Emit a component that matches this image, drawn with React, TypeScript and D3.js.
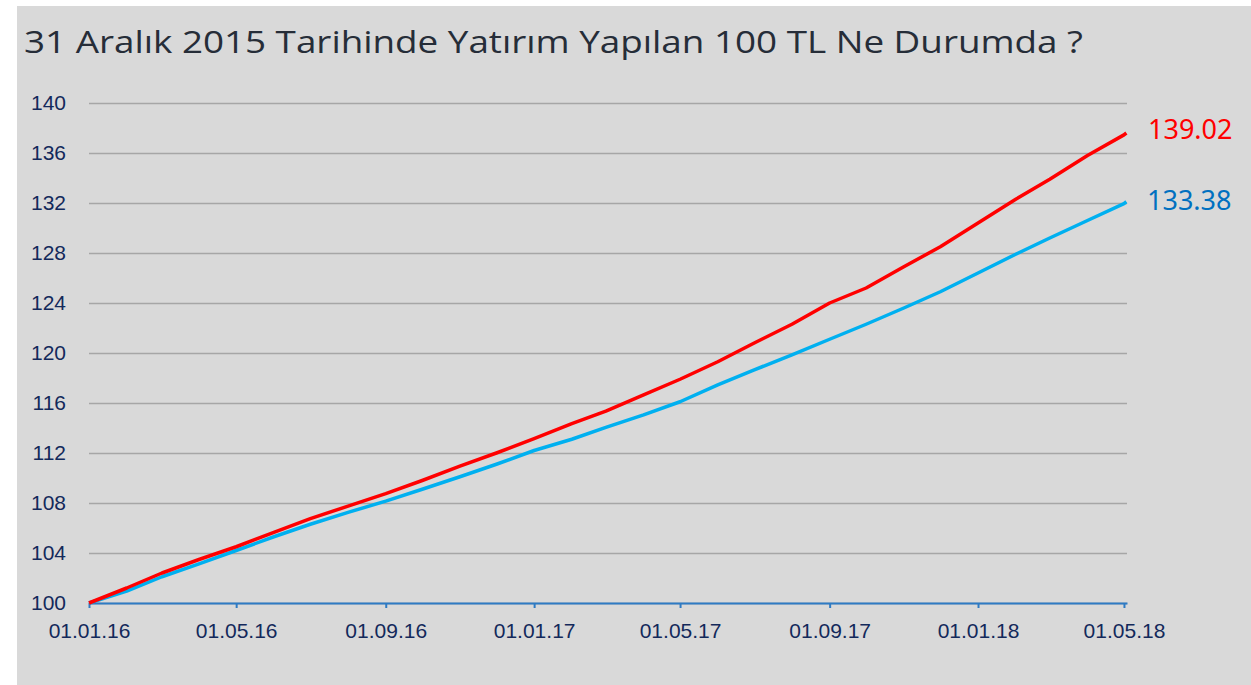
import React, { useRef, useEffect } from "react"
import * as d3 from "d3"

// values, first of each month + last day shown
const dates = [
    "2016-01-01", "2016-02-01", "2016-03-01", "2016-04-01", "2016-05-01", "2016-06-01",
    "2016-07-01", "2016-08-01", "2016-09-01", "2016-10-01", "2016-11-01", "2016-12-01",
    "2017-01-01", "2017-02-01", "2017-03-01", "2017-04-01", "2017-05-01", "2017-06-01",
    "2017-07-01", "2017-08-01", "2017-09-01", "2017-10-01", "2017-11-01", "2017-12-01",
    "2018-01-01", "2018-02-01", "2018-03-01", "2018-04-01", "2018-05-01", "2018-05-03"
]

const redValues = [
    100, 101.2, 102.4, 103.5, 104.5, 105.65,
    106.75, 107.75, 108.75, 109.8, 110.95, 112.0,
    113.15, 114.35, 115.35, 116.65, 117.9, 119.3,
    120.8, 122.3, 124.0, 125.2, 126.9, 128.5,
    130.4, 132.3, 133.9, 135.8, 137.45, 137.6
]

const blueValues = [
    100, 100.95, 102.1, 103.15, 104.2, 105.3,
    106.3, 107.25, 108.15, 109.1, 110.1, 111.1,
    112.2, 113.1, 114.05, 115.05, 116.1, 117.45,
    118.65, 119.85, 121.1, 122.3, 123.6, 124.9,
    126.4, 127.9, 129.2, 130.6, 131.95, 132.1
]

const endLabels = ["139.02", "133.38"]
const yTicks = [100, 104, 108, 112, 116, 120, 124, 128, 132, 136, 140]
const xTicks = [
    "2016-01-01", "2016-05-01", "2016-09-01", "2017-01-01",
    "2017-05-01", "2017-09-01", "2018-01-01", "2018-05-01"
]
const title = "31 Aralık 2015 Tarihinde Yatırım Yapılan 100 TL Ne Durumda ?"

const parse = d3.utcParse("%Y-%m-%d")

const App = () => {
    let element = useRef<SVGSVGElement>(null)

    useEffect(() => {
        const width = 1251, height = 685
        const left = 89, right = 1127, top = 103, bottom = 603

        let svg = d3.select(element.current)
        svg.selectAll("*").remove()

        svg.append("rect")
            .attr("x", 17).attr("y", 6)
            .attr("width", width - 17).attr("height", height - 6)
            .attr("fill", "#d9d9d9")

        svg.append("text")
            .attr("x", 24).attr("y", 53)
            .attr("font-family", "'Open Sans', sans-serif")
            .attr("font-size", 31)
            .attr("fill", "#262d38")
            .attr("textLength", 1059)
            .attr("lengthAdjust", "spacingAndGlyphs")
            .text(title)

        let x = d3.scaleUtc()
            .domain([parse("2016-01-01")!, new Date(Date.UTC(2018, 4, 3, 12))])
            .range([left, right])

        let y = d3.scaleLinear()
            .domain([100, 140])
            .range([bottom, top])

        // y axis + gridlines
        svg.append("g")
            .attr("transform", "translate(" + left + ",0)")
            .call(
                d3.axisLeft(y)
                    .tickValues(yTicks)
                    .tickSize(-(right - left))
                    .tickPadding(23)
                    .tickFormat(d3.format("d"))
            )
            .call(g => g.select(".domain").remove())
            .call(g => g.selectAll(".tick line")
                .attr("stroke", "#a6a6a6")
                .attr("stroke-width", 1.6))
            .call(g => g.selectAll(".tick text")
                .attr("fill", "#13295b")
                .attr("font-family", "'Liberation Sans', Arial, sans-serif")
                .attr("font-size", 21))

        // x axis
        svg.append("g")
            .attr("transform", "translate(0," + bottom + ")")
            .call(
                d3.axisBottom(x)
                    .tickValues(xTicks.map(d => parse(d)!))
                    .tickSize(5)
                    .tickSizeOuter(0)
                    .tickPadding(15)
                    .tickFormat(d => d3.utcFormat("%d.%m.%y")(d as Date))
            )
            .call(g => g.select(".domain")
                .attr("stroke", "#2e7bc4")
                .attr("stroke-width", 2))
            .call(g => g.selectAll(".tick line")
                .attr("stroke", "#2e7bc4")
                .attr("stroke-width", 2))
            .call(g => g.selectAll(".tick text")
                .attr("fill", "#13295b")
                .attr("font-family", "'Liberation Sans', Arial, sans-serif")
                .attr("font-size", 21))

        const line = d3.line<number>()
            .x((d, i) => x(parse(dates[i])!))
            .y(d => y(d))

        svg.append("path")
            .datum(blueValues)
            .attr("d", line)
            .attr("fill", "none")
            .attr("stroke", "#00b0f0")
            .attr("stroke-width", 3.5)
            .attr("stroke-linejoin", "round")

        svg.append("path")
            .datum(redValues)
            .attr("d", line)
            .attr("fill", "none")
            .attr("stroke", "#ff0000")
            .attr("stroke-width", 3.5)
            .attr("stroke-linejoin", "round")

        svg.append("text")
            .attr("x", 1148).attr("y", 139)
            .attr("font-family", "'Noto Sans', sans-serif")
            .attr("font-size", 27)
            .attr("fill", "#ff0000")
            .text(endLabels[0])

        svg.append("text")
            .attr("x", 1147).attr("y", 210)
            .attr("font-family", "'Noto Sans', sans-serif")
            .attr("font-size", 27)
            .attr("fill", "#0070c0")
            .text(endLabels[1])
    })

    return (
        <div style={{ position: "absolute", left: 0, top: 0 }}>
            <svg ref={element} width={1251} height={685} style={{ display: "block" }}></svg>
        </div>
    )
}

export default App
